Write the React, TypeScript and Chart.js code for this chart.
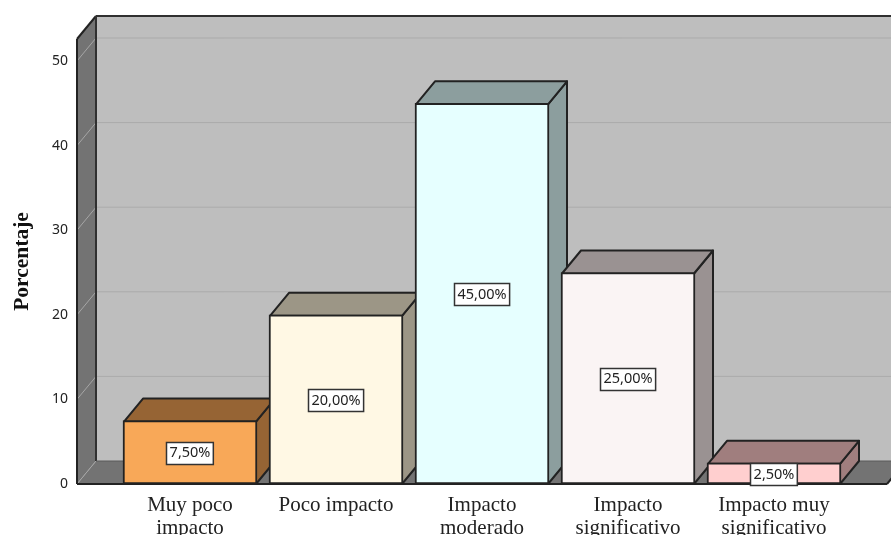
import React, { useEffect, useRef } from "react";
import { Chart, registerables } from "chart.js";

Chart.register(...registerables);

const categories = [
  ["Muy poco", "impacto"],
  ["Poco impacto"],
  ["Impacto", "moderado"],
  ["Impacto", "significativo"],
  ["Impacto muy", "significativo"],
];
const values = [7.5, 20, 45, 25, 2.5];
const valueLabels = ["7,50%", "20,00%", "45,00%", "25,00%", "2,50%"];
const frontColors = ["#F8A858", "#FFF8E4", "#E6FFFF", "#FAF4F4", "#FFCFCF"];
const shadeColors = ["#966434", "#9C9686", "#8C9E9E", "#9A9292", "#A07E7E"];
const yTicks = [0, 10, 20, 30, 40, 50];
const yMax = 52.6;

const DX = 19;
const DY = -23;
const WALL_EXTEND = 40;
const LINE = "#222222";

function poly(ctx: CanvasRenderingContext2D, pts: number[][], fill: string | null, stroke: string | null, w = 2) {
  ctx.beginPath();
  pts.forEach((p, i) => (i ? ctx.lineTo(p[0], p[1]) : ctx.moveTo(p[0], p[1])));
  ctx.closePath();
  if (fill) {
    ctx.fillStyle = fill;
    ctx.fill();
  }
  if (stroke) {
    ctx.strokeStyle = stroke;
    ctx.lineWidth = w;
    ctx.lineJoin = "round";
    ctx.stroke();
  }
}

function seg(ctx: CanvasRenderingContext2D, x1: number, y1: number, x2: number, y2: number, color: string, w: number) {
  ctx.beginPath();
  ctx.moveTo(x1, y1);
  ctx.lineTo(x2, y2);
  ctx.strokeStyle = color;
  ctx.lineWidth = w;
  ctx.stroke();
}

const box3d = {
  id: "box3d",
  beforeDatasetsDraw(chart: any) {
    const { ctx, chartArea, scales } = chart;
    const y = scales.y;
    const bottom = y.getPixelForValue(0);
    const top = y.getPixelForValue(yMax);
    const left = chartArea.left - WALL_EXTEND;
    const right = chartArea.right + WALL_EXTEND;
    ctx.save();
    // back wall
    ctx.fillStyle = "#BEBEBE";
    ctx.fillRect(left + DX, top + DY, right - left, bottom - top);
    // side wall
    poly(ctx, [[left, top], [left + DX, top + DY], [left + DX, bottom + DY], [left, bottom]], "#737373", null);
    // floor
    poly(ctx, [[left, bottom], [left + DX, bottom + DY], [right + DX, bottom + DY], [right, bottom]], "#737373", null);
    // grid
    yTicks.forEach((t) => {
      const py = y.getPixelForValue(t);
      seg(ctx, left, py, left + DX, py + DY, "#A6A6A6", 1);
      if (t > 0) seg(ctx, left + DX, py + DY, right + DX, py + DY, "#ABABAB", 1);
    });
    // outlines
    seg(ctx, left, top, left + DX, top + DY, LINE, 2);
    seg(ctx, left + DX, top + DY, right + DX, top + DY, "#303030", 2);
    seg(ctx, left + DX, top + DY, left + DX, bottom + DY, "#303030", 2);
    seg(ctx, left + DX, bottom + DY, right + DX, bottom + DY, "#5A5A5A", 1);
    seg(ctx, left, top, left, bottom, LINE, 2);
    seg(ctx, left, bottom, right, bottom, LINE, 2);
    seg(ctx, right, bottom, right + DX, bottom + DY, LINE, 2);

    // bar tops and sides
    const meta = chart.getDatasetMeta(0);
    meta.data.forEach((bar: any, i: number) => {
      const half = bar.width / 2;
      const x0 = bar.x - half + 1;
      const x1 = bar.x + half - 1;
      const yTop = bar.y + 1;
      const yBase = bar.base;
      const shade = shadeColors[i];
      poly(ctx, [[x1, yTop], [x1 + DX, yTop + DY], [x1 + DX, yBase + DY], [x1, yBase]], shade, LINE);
      poly(ctx, [[x0, yTop], [x0 + DX, yTop + DY], [x1 + DX, yTop + DY], [x1, yTop]], shade, LINE);
    });
    ctx.restore();
  },
  afterDatasetsDraw(chart: any) {
    const { ctx } = chart;
    const meta = chart.getDatasetMeta(0);
    ctx.save();
    ctx.font = '14.5px "Noto Sans"';
    ctx.textAlign = "center";
    ctx.textBaseline = "middle";
    meta.data.forEach((bar: any, i: number) => {
      const cy = (bar.y + bar.base) / 2 + 1;
      const text = valueLabels[i];
      const w = ctx.measureText(text).width + 7;
      const h = 23;
      const bx = Math.round(bar.x - w / 2);
      const by = Math.round(cy - h / 2);
      ctx.fillStyle = "#FFFFFF";
      ctx.fillRect(bx, by, w, h);
      ctx.strokeStyle = "#333333";
      ctx.lineWidth = 1.5;
      ctx.strokeRect(bx + 0.5, by + 0.5, w - 1, h - 1);
      ctx.fillStyle = "#222222";
      ctx.fillText(text, bar.x, cy);
    });
    ctx.restore();
  },
};

export default function App() {
  const ref = useRef<HTMLCanvasElement>(null);
  useEffect(() => {
    const chart = new Chart(ref.current!, {
      type: "bar",
      data: {
        labels: categories as any,
        datasets: [
          {
            data: values,
            backgroundColor: frontColors,
            borderColor: LINE,
            borderWidth: 2,
            borderSkipped: false,
            barThickness: 134,
          },
        ],
      },
      options: {
        responsive: false,
        animation: false,
        devicePixelRatio: 1,
        layout: { autoPadding: false, padding: { top: 39, right: 44, left: 0, bottom: 0 } },
        plugins: { legend: { display: false }, title: { display: false }, tooltip: { enabled: false } },
        scales: {
          x: {
            grid: { display: false, drawTicks: false },
            border: { display: false },
            ticks: {
              autoSkip: false,
              maxRotation: 0,
              minRotation: 0,
              padding: 10,
              color: "#222222",
              font: { family: '"Liberation Serif"', size: 21, lineHeight: 1.08 },
            },
            afterFit(scale: any) {
              scale.height = 51;
            },
          },
          y: {
            min: 0,
            max: yMax,
            grid: { display: false, drawTicks: false },
            border: { display: false },
            afterBuildTicks(scale: any) {
              scale.ticks = yTicks.map((value) => ({ value }));
            },
            ticks: {
              padding: 49,
              color: "#222222",
              font: { family: '"Noto Sans"', size: 14 },
            },
            title: {
              display: true,
              text: "Porcentaje",
              color: "#111111",
              padding: { top: 10, bottom: 0 },
              font: { family: '"Liberation Serif"', size: 21.5, weight: "bold" },
            },
            afterFit(scale: any) {
              scale.width = 117;
              scale.paddingTop = 0;
              scale.paddingBottom = 0;
            },
          },
        },
      },
      plugins: [box3d],
    } as any);
    return () => chart.destroy();
  }, []);
  return (
    <canvas
      ref={ref}
      width={891}
      height={535}
      style={{ position: "absolute", left: 0, top: 0, display: "block" }}
    />
  );
}
